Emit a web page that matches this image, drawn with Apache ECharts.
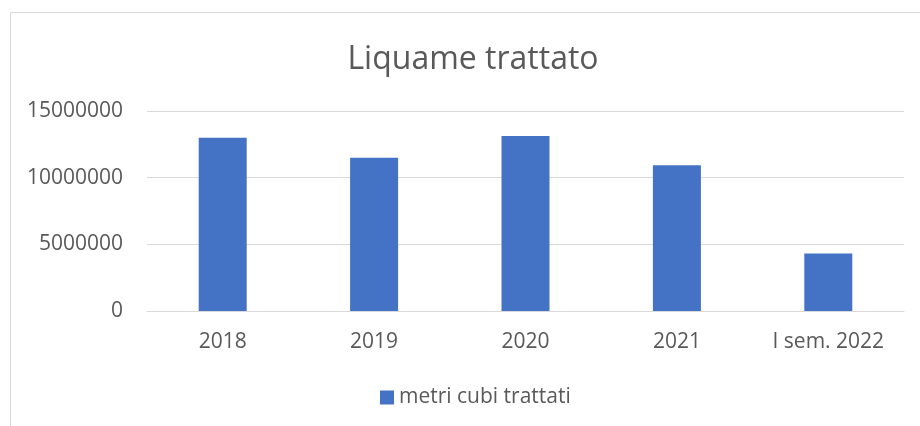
<!DOCTYPE html>
<html>
<head>
<meta charset="utf-8">
<script src="https://cdn.jsdelivr.net/npm/echarts@6/dist/echarts.min.js"></script>
<style>
  html, body { margin: 0; padding: 0; background: #fff; }
  #chart { width: 920px; height: 426px; }
</style>
</head>
<body>
<div id="chart"></div>
<script>
const categories = ['2018', '2019', '2020', '2021', 'I sem. 2022'];
const metriCubi = [13000000, 11500000, 13120000, 10930000, 4320000];
const seriesName = 'metri cubi trattati';

const textColor = '#595959';
const fontFamily = '"Open Sans", sans-serif';

const myChart = echarts.init(document.getElementById('chart'));

const option = {
    animation: false,
    backgroundColor: '#fff',
    title: {
        text: 'Liquame trattato',
        left: 468,
        textAlign: 'center',
        top: 37,
        textStyle: {
            color: textColor,
            fontFamily: fontFamily,
            fontSize: 32,
            fontWeight: 'normal',
            lineHeight: 36
        }
    },
    legend: {
        data: [seriesName],
        left: 375,
        top: 382,
        icon: 'rect',
        itemWidth: 14,
        itemHeight: 14,
        textStyle: {
            color: textColor,
            fontFamily: fontFamily,
            fontSize: 21,
            lineHeight: 21
        }
    },
    // cornice del grafico (bordo grigio chiaro)
    graphic: [
        {
            type: 'polyline',
            shape: { points: [[10.5, 426], [10.5, 12.5], [920, 12.5]] },
            style: { stroke: '#D9D9D9', lineWidth: 1, fill: null },
            silent: true
        }
    ],
    grid: {
        left: 147,
        right: 16,
        top: 111,
        bottom: 115,
        containLabel: false
    },
    xAxis: {
        type: 'category',
        data: categories,
        axisTick: { show: false },
        axisLine: { lineStyle: { color: '#D9D9D9', width: 1 } },
        axisLabel: {
            color: textColor,
            fontFamily: fontFamily,
            fontSize: 21,
            lineHeight: 21,
            margin: 21
        }
    },
    yAxis: {
        type: 'value',
        min: 0,
        max: 15000000,
        interval: 5000000,
        axisLine: { show: false },
        axisTick: { show: false },
        splitLine: { lineStyle: { color: '#D9D9D9', width: 1 } },
        axisLabel: {
            color: textColor,
            fontFamily: fontFamily,
            fontSize: 21,
            margin: 24,
            formatter: (v) => String(v)
        }
    },
    series: [
        {
            name: seriesName,
            type: 'bar',
            data: metriCubi,
            barWidth: 48,
            itemStyle: { color: '#4472C4' }
        }
    ]
};

myChart.setOption(option);
</script>
</body>
</html>
